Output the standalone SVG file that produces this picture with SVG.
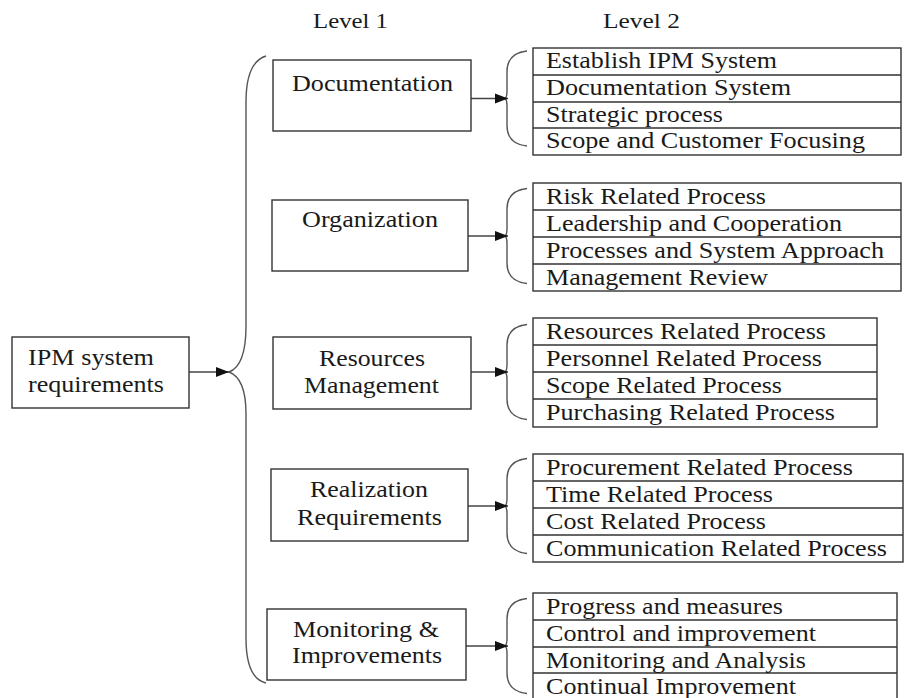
<svg xmlns="http://www.w3.org/2000/svg" xmlns:xlink="http://www.w3.org/1999/xlink" width="905" height="698" viewBox="0 0 905 698">
  <style>
    text { font-family: "Liberation Serif", "Times New Roman", serif; font-size: 22.5px; fill: #1a1a1a; }
    text.head { font-size: 21px; }
    .box { fill: #ffffff; stroke: #333333; stroke-width: 1.4; }
    .row { fill: none; stroke: #333333; stroke-width: 1.4; }
    .brace { fill: none; stroke: #555555; stroke-width: 1.4; }
    .arrow { fill: none; stroke: #444444; stroke-width: 1.4; }
  </style>
  <defs>
    <marker id="head" markerUnits="userSpaceOnUse" markerWidth="14" markerHeight="11" refX="13" refY="5.5" orient="auto">
      <path d="M0,0.5 L13,5.5 L0,10.5 Z" fill="#111111"/>
    </marker>
    <!-- curly brace opening to the right; origin at its middle point -->
    <path id="smallBrace" class="brace" d="M22,-47.5 C9,-46 2,-40 2,-27 L2,-8 Q2,-1 0,0 Q2,1 2,8 L2,27 C2,40 9,46 22,47.5"/>
  </defs>

  <!-- column headings -->
  <g id="headings">
    <text class="head" x="313" y="28" textLength="75" lengthAdjust="spacingAndGlyphs">Level 1</text>
    <text class="head" x="603" y="28" textLength="77" lengthAdjust="spacingAndGlyphs">Level 2</text>
  </g>

  <!-- connectors: arrows and braces -->
  <g id="connectors">
    <path class="brace" d="M266,56 C253,60 246,75 246,102 L246,326 C246,355 240,368 229,372 C240,376 246,390 246,414 L246,638 C246,665 253,680 266,683"/>
    <line class="arrow" x1="189" y1="372" x2="229" y2="372" marker-end="url(#head)"/>

    <use xlink:href="#smallBrace" x="505" y="98.5"/>
    <use xlink:href="#smallBrace" x="505" y="236"/>
    <use xlink:href="#smallBrace" x="505" y="372"/>
    <use xlink:href="#smallBrace" x="505" y="506"/>
    <use xlink:href="#smallBrace" x="505" y="646"/>

    <line class="arrow" x1="471" y1="98.5" x2="508" y2="98.5" marker-end="url(#head)"/>
    <line class="arrow" x1="468" y1="236" x2="508" y2="236" marker-end="url(#head)"/>
    <line class="arrow" x1="471" y1="372" x2="508" y2="372" marker-end="url(#head)"/>
    <line class="arrow" x1="468" y1="506" x2="508" y2="506" marker-end="url(#head)"/>
    <line class="arrow" x1="466" y1="646" x2="508" y2="646" marker-end="url(#head)"/>
  </g>

  <!-- root -->
  <g id="root">
    <rect class="box" x="12" y="337" width="177" height="71"/>
    <text x="28" y="365" textLength="126" lengthAdjust="spacingAndGlyphs">IPM system</text>
    <text x="28" y="392" textLength="136" lengthAdjust="spacingAndGlyphs">requirements</text>
  </g>

  <!-- level 1 -->
  <g id="documentation">
    <rect class="box" x="273" y="60" width="198" height="71"/>
    <text x="292" y="91" textLength="161" lengthAdjust="spacingAndGlyphs">Documentation</text>
  </g>
  <g id="organization">
    <rect class="box" x="272" y="200" width="196" height="71"/>
    <text x="302" y="227" textLength="136" lengthAdjust="spacingAndGlyphs">Organization</text>
  </g>
  <g id="resources">
    <rect class="box" x="273" y="337" width="198" height="72"/>
    <text x="319" y="366" textLength="106" lengthAdjust="spacingAndGlyphs">Resources</text>
    <text x="304" y="393" textLength="135" lengthAdjust="spacingAndGlyphs">Management</text>
  </g>
  <g id="realization">
    <rect class="box" x="271" y="469" width="197" height="72"/>
    <text x="310" y="497" textLength="118" lengthAdjust="spacingAndGlyphs">Realization</text>
    <text x="297" y="525" textLength="145" lengthAdjust="spacingAndGlyphs">Requirements</text>
  </g>
  <g id="monitoring">
    <rect class="box" x="267" y="609" width="199" height="71"/>
    <text x="293" y="637" textLength="146" lengthAdjust="spacingAndGlyphs">Monitoring &amp;</text>
    <text x="292" y="663" textLength="150" lengthAdjust="spacingAndGlyphs">Improvements</text>
  </g>

  <!-- level 2 lists -->
  <g id="documentation-items">
    <rect class="box" x="533" y="48" width="368" height="107"/>
    <path class="row" d="M533,75 H901 M533,102 H901 M533,128 H901"/>
    <text x="546" y="68" textLength="231" lengthAdjust="spacingAndGlyphs">Establish IPM System</text>
    <text x="546" y="95" textLength="245" lengthAdjust="spacingAndGlyphs">Documentation System</text>
    <text x="546" y="122" textLength="177" lengthAdjust="spacingAndGlyphs">Strategic process</text>
    <text x="546" y="148" textLength="319" lengthAdjust="spacingAndGlyphs">Scope and Customer Focusing</text>
  </g>
  <g id="organization-items">
    <rect class="box" x="533" y="183" width="368" height="108"/>
    <path class="row" d="M533,210 H901 M533,237 H901 M533,264 H901"/>
    <text x="546" y="204" textLength="220" lengthAdjust="spacingAndGlyphs">Risk Related Process</text>
    <text x="546" y="231" textLength="296" lengthAdjust="spacingAndGlyphs">Leadership and Cooperation</text>
    <text x="546" y="258" textLength="338" lengthAdjust="spacingAndGlyphs">Processes and System Approach</text>
    <text x="546" y="285" textLength="222" lengthAdjust="spacingAndGlyphs">Management Review</text>
  </g>
  <g id="resources-items">
    <rect class="box" x="533" y="318" width="344" height="109"/>
    <path class="row" d="M533,345 H877 M533,372 H877 M533,399 H877"/>
    <text x="546" y="339" textLength="280" lengthAdjust="spacingAndGlyphs">Resources Related Process</text>
    <text x="546" y="366" textLength="276" lengthAdjust="spacingAndGlyphs">Personnel Related Process</text>
    <text x="546" y="393" textLength="236" lengthAdjust="spacingAndGlyphs">Scope Related Process</text>
    <text x="546" y="420" textLength="289" lengthAdjust="spacingAndGlyphs">Purchasing Related Process</text>
  </g>
  <g id="realization-items">
    <rect class="box" x="533" y="454" width="370" height="108"/>
    <path class="row" d="M533,481 H903 M533,508 H903 M533,535 H903"/>
    <text x="546" y="475" textLength="307" lengthAdjust="spacingAndGlyphs">Procurement Related Process</text>
    <text x="546" y="502" textLength="227" lengthAdjust="spacingAndGlyphs">Time Related Process</text>
    <text x="546" y="529" textLength="220" lengthAdjust="spacingAndGlyphs">Cost Related Process</text>
    <text x="546" y="556" textLength="341" lengthAdjust="spacingAndGlyphs">Communication Related Process</text>
  </g>
  <g id="monitoring-items">
    <rect class="box" x="533" y="593" width="364" height="108"/>
    <path class="row" d="M533,620 H897 M533,647 H897 M533,673 H897"/>
    <text x="546" y="614" textLength="237" lengthAdjust="spacingAndGlyphs">Progress and measures</text>
    <text x="546" y="641" textLength="270" lengthAdjust="spacingAndGlyphs">Control and improvement</text>
    <text x="546" y="668" textLength="260" lengthAdjust="spacingAndGlyphs">Monitoring and Analysis</text>
    <text x="546" y="694" textLength="250" lengthAdjust="spacingAndGlyphs">Continual Improvement</text>
  </g>
</svg>
